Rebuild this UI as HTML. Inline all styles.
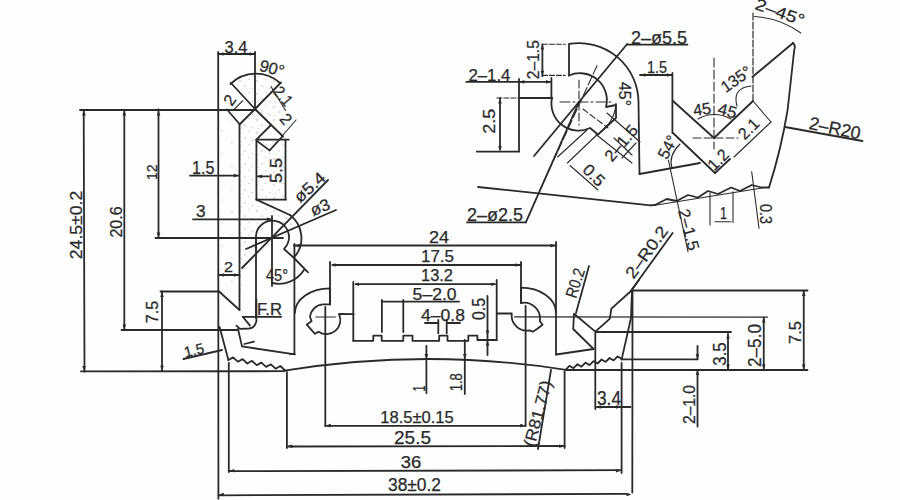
<!DOCTYPE html>
<html><head><meta charset="utf-8"><style>
html,body{margin:0;padding:0;background:#fff;}
svg{display:block;}
text{font-family:"Liberation Sans",sans-serif;fill:#2a2a2a;stroke:#2a2a2a;stroke-width:0.25px;}
</style></head><body>
<svg width="900" height="500" viewBox="0 0 900 500">
<rect width="900" height="500" fill="#fefefe"/>
<defs><pattern id="st" width="17" height="13" patternUnits="userSpaceOnUse">
<circle cx="2" cy="3" r="0.8" fill="#b4b4b4"/><circle cx="11" cy="1.5" r="0.7" fill="#c4c4c4"/>
<circle cx="7" cy="8" r="0.8" fill="#bcbcbc"/><circle cx="14.5" cy="10.5" r="0.7" fill="#c0c0c0"/>
<circle cx="3.5" cy="11.5" r="0.6" fill="#c8c8c8"/></pattern>
<pattern id="st2" width="19" height="23" patternUnits="userSpaceOnUse">
<circle cx="4" cy="5" r="0.7" fill="#c4c4c4"/><circle cx="13" cy="16" r="0.7" fill="#c8c8c8"/></pattern></defs>
<g fill="url(#st)" stroke="none">
<polygon points="255,109 272,92 292,113 272,126"/>
<polygon points="256.4,139.6 286,139.6 286,199.6 256.4,199.6"/>
<polygon points="256.4,199.6 290,215 294,232 278,224 262,232 256.4,222"/>
<polygon points="239.5,124.5 255,109 271,125 256.4,139.6 256.4,232 239.5,300"/>
<polygon fill="url(#st2)" points="218.5,110 239.5,124.5 239.5,305 218.5,291"/>
<polygon points="229,84 255,109 281,83 255,73"/>
</g>
<g fill="none" stroke="#2a2a2a" stroke-linecap="round" stroke-linejoin="round">
<line x1="80" y1="110" x2="255" y2="110" stroke-width="1.8"/>
<line x1="83.7" y1="110" x2="84.5" y2="371.5" stroke-width="1.8"/>
<text transform="translate(76.2,225) rotate(-90)" x="0" y="5.72" text-anchor="middle" font-size="16.12" textLength="68.4" lengthAdjust="spacingAndGlyphs">24.5±0.2</text>
<line x1="124.3" y1="110" x2="124.3" y2="330" stroke-width="1.8"/>
<text transform="translate(115.8,222) rotate(-90)" x="0" y="5.72" text-anchor="middle" font-size="16.12" textLength="31.2" lengthAdjust="spacingAndGlyphs">20.6</text>
<line x1="158.5" y1="109.5" x2="158.5" y2="238" stroke-width="1.8"/>
<text transform="translate(151.2,172.2) rotate(-90)" x="0" y="5.40" text-anchor="middle" font-size="15.22" textLength="15.6" lengthAdjust="spacingAndGlyphs">12</text>
<line x1="155.5" y1="238" x2="283" y2="238" stroke-width="1.8"/>
<line x1="121.5" y1="330" x2="237" y2="330" stroke-width="1.8"/>
<line x1="160.5" y1="291.5" x2="218.5" y2="291.5" stroke-width="1.8"/>
<line x1="162" y1="291.5" x2="162" y2="371" stroke-width="1.8"/>
<text transform="translate(152,312) rotate(-90)" x="0" y="5.56" text-anchor="middle" font-size="15.67" textLength="22.5" lengthAdjust="spacingAndGlyphs">7.5</text>
<line x1="81" y1="371.4" x2="284.4" y2="371.2" stroke-width="1.8"/>
<line x1="218.2" y1="52" x2="218.4" y2="498.7" stroke-width="1.8"/>
<line x1="255" y1="52" x2="255" y2="109.5" stroke-width="1.8"/>
<line x1="218.5" y1="54" x2="255" y2="54" stroke-width="1.8"/>
<text transform="translate(236,47.5) rotate(0)" x="0" y="5.83" text-anchor="middle" font-size="16.42" textLength="23" lengthAdjust="spacingAndGlyphs">3.4</text>
<text transform="translate(203.2,167.2) rotate(0)" x="0" y="6.36" text-anchor="middle" font-size="17.91" textLength="22.4" lengthAdjust="spacingAndGlyphs">1.5</text>
<line x1="190" y1="175.6" x2="239" y2="175.6" stroke-width="1.8"/>
<line x1="257" y1="176.4" x2="269" y2="176.4" stroke-width="1.8"/>
<text transform="translate(200.8,210.8) rotate(0)" x="0" y="5.93" text-anchor="middle" font-size="16.72" textLength="9.6" lengthAdjust="spacingAndGlyphs">3</text>
<line x1="193" y1="219.3" x2="272" y2="219.3" stroke-width="1.8"/>
<text transform="translate(228.5,267) rotate(0)" x="0" y="5.30" text-anchor="middle" font-size="14.93" textLength="9" lengthAdjust="spacingAndGlyphs">2</text>
<line x1="218.5" y1="275" x2="239.5" y2="275" stroke-width="1.8"/>
<line x1="231" y1="83" x2="255" y2="109" stroke-width="1.8"/>
<line x1="255" y1="109" x2="281" y2="82.5" stroke-width="1.8"/>
<line x1="227" y1="109.5" x2="239.5" y2="124" stroke-width="1.8"/>
<line x1="255" y1="109" x2="239.5" y2="124.5" stroke-width="1.8"/>
<line x1="239.5" y1="124.5" x2="239.5" y2="310" stroke-width="1.8"/>
<line x1="255" y1="109" x2="283" y2="136.5" stroke-width="1.8"/>
<line x1="271" y1="125" x2="256.4" y2="139.6" stroke-width="1.8"/>
<line x1="256.4" y1="139.6" x2="288.8" y2="139.6" stroke-width="1.8"/>
<line x1="256.4" y1="139.6" x2="256.4" y2="199.6" stroke-width="1.8"/>
<line x1="285.5" y1="139.6" x2="285.5" y2="199.6" stroke-width="1.8"/>
<line x1="257" y1="141" x2="269.6" y2="150.4" stroke-width="1.8"/>
<line x1="269.6" y1="150.4" x2="282.8" y2="136" stroke-width="1.8"/>
<line x1="256.4" y1="199.6" x2="290" y2="215" stroke-width="1.8"/>
<text transform="translate(229.5,100) rotate(-55)" x="0" y="5.83" text-anchor="middle" font-size="16.42" textLength="9" lengthAdjust="spacingAndGlyphs">2</text>
<line x1="234.5" y1="109" x2="242.7" y2="100.7" stroke-width="1.1"/>
<text transform="translate(283.5,96) rotate(50)" x="0" y="5.83" text-anchor="middle" font-size="16.42" textLength="20" lengthAdjust="spacingAndGlyphs">2.1</text>
<text transform="translate(286,119) rotate(50)" x="0" y="5.83" text-anchor="middle" font-size="16.42" textLength="9" lengthAdjust="spacingAndGlyphs">2</text>
<line x1="296" y1="120" x2="283" y2="135" stroke-width="1.1"/>
<line x1="271" y1="86.5" x2="285.5" y2="110.5" stroke-width="1.1"/>
<text transform="translate(276.5,170.5) rotate(-90)" x="0" y="5.56" text-anchor="middle" font-size="15.67" textLength="25" lengthAdjust="spacingAndGlyphs">5.5</text>
<line x1="256.4" y1="199.6" x2="286" y2="199.6" stroke-width="1.8"/>
<text transform="translate(309.5,187) rotate(-42)" x="0" y="5.83" text-anchor="middle" font-size="16.42" textLength="36" lengthAdjust="spacingAndGlyphs">ø5.4</text>
<text transform="translate(320,207) rotate(-22)" x="0" y="5.83" text-anchor="middle" font-size="16.42" textLength="20" lengthAdjust="spacingAndGlyphs">ø3</text>
<path d="M230.5,84 A36,36 0 0 1 280,83" stroke-width="1.8"/>
<text transform="translate(272,68) rotate(15)" x="0" y="5.83" text-anchor="middle" font-size="16.42" textLength="25" lengthAdjust="spacingAndGlyphs">90°</text>
<path d="M290,215 A29,29 0 0 1 294.4,257" stroke-width="1.8"/>
<path d="M256,250 L256,238 A16.5,16.5 0 1 1 287,245 L284,249 L294,258" stroke-width="1.8"/>
<line x1="256" y1="238" x2="256" y2="318" stroke-width="1.8"/>
<line x1="242" y1="268" x2="328" y2="180" stroke-width="1.8"/>
<line x1="246" y1="249" x2="336" y2="210" stroke-width="1.8"/>
<line x1="272" y1="216" x2="272" y2="286" stroke-width="1.8"/>
<line x1="294" y1="258" x2="308" y2="272.4" stroke-width="1.8"/>
<path d="M272,283 A30,30 0 0 0 304,270" stroke-width="1.8"/>
<text transform="translate(277,275) rotate(0)" x="0" y="5.83" text-anchor="middle" font-size="16.42" textLength="22" lengthAdjust="spacingAndGlyphs">45°</text>
<line x1="218.5" y1="291" x2="239.5" y2="310" stroke-width="1.8"/>
<text transform="translate(269.5,309.5) rotate(0)" x="0" y="5.83" text-anchor="middle" font-size="16.42" textLength="25" lengthAdjust="spacingAndGlyphs">F.R</text>
<line x1="242.8" y1="316.8" x2="281.2" y2="316.8" stroke-width="1.8"/>
<line x1="242.8" y1="316.8" x2="250" y2="325.6" stroke-width="1.8"/>
<path d="M256.4,300 L256.4,321 Q255,328 249,328.5 L240,328.8 L236.4,325.6" stroke-width="1.8"/>
<line x1="238" y1="329" x2="242" y2="346.4" stroke-width="1.8"/>
<line x1="242" y1="346.4" x2="294.8" y2="354.4" stroke-width="1.8"/>
<line x1="244.4" y1="344" x2="254" y2="341.6" stroke-width="1.8"/>
<path d="M219.6,327 L228.4,360" stroke-width="1.8"/>
<polyline points="228.4,360.0 233.1,357.4 237.8,361.7 242.6,359.1 247.3,363.5 252.0,360.8 256.7,365.2 261.4,362.6 266.1,366.9 270.9,364.3 275.6,368.7 280.3,366.0 285.0,370.4" stroke-width="1.8"/>
<text transform="translate(194,350) rotate(-14)" x="0" y="5.30" text-anchor="middle" font-size="14.93" textLength="20" lengthAdjust="spacingAndGlyphs">1.5</text>
<line x1="183.4" y1="359" x2="222" y2="350" stroke-width="1.8"/>
<line x1="218.5" y1="495.3" x2="627" y2="493.8" stroke-width="1.8"/>
<text transform="translate(414.5,485) rotate(0)" x="0" y="6.36" text-anchor="middle" font-size="17.91" textLength="53" lengthAdjust="spacingAndGlyphs">38±0.2</text>
<line x1="228.8" y1="363" x2="228.8" y2="472" stroke-width="1.8"/>
<line x1="228.8" y1="471.2" x2="621.3" y2="470.2" stroke-width="1.8"/>
<text transform="translate(411,462.5) rotate(0)" x="0" y="5.83" text-anchor="middle" font-size="16.42" textLength="20.5" lengthAdjust="spacingAndGlyphs">36</text>
<line x1="286.9" y1="372" x2="286.9" y2="448" stroke-width="1.8"/>
<line x1="286.9" y1="446.5" x2="564.6" y2="446" stroke-width="1.8"/>
<text transform="translate(412.5,438) rotate(0)" x="0" y="6.36" text-anchor="middle" font-size="17.91" textLength="37" lengthAdjust="spacingAndGlyphs">25.5</text>
<line x1="325.3" y1="307" x2="325.3" y2="426" stroke-width="1.8"/>
<line x1="325.3" y1="425.8" x2="525.6" y2="425.8" stroke-width="1.8"/>
<text transform="translate(417,417.5) rotate(0)" x="0" y="5.83" text-anchor="middle" font-size="16.42" textLength="73.5" lengthAdjust="spacingAndGlyphs">18.5±0.15</text>
<line x1="525.6" y1="306" x2="525.6" y2="425.8" stroke-width="1.8"/>
<line x1="564.6" y1="371.5" x2="564.6" y2="448" stroke-width="1.8"/>
<line x1="621.6" y1="363" x2="621.6" y2="473" stroke-width="1.8"/>
<line x1="632.5" y1="290" x2="632.3" y2="492.5" stroke-width="1.8"/>
<path d="M284.4,370.7 A891,891 0 0 1 566,369.8" stroke-width="1.8"/>
<text transform="translate(537.5,413.5) rotate(-75)" x="0" y="5.83" text-anchor="middle" font-size="16.42" textLength="68" lengthAdjust="spacingAndGlyphs">(R81.77)</text>
<line x1="538" y1="449" x2="551" y2="370" stroke-width="1.8"/>
<text transform="translate(419,388.5) rotate(-90)" x="0" y="5.83" text-anchor="middle" font-size="16.42" textLength="6" lengthAdjust="spacingAndGlyphs">1</text>
<line x1="426.4" y1="346" x2="426.4" y2="393" stroke-width="1.8"/>
<text transform="translate(456.4,382.3) rotate(-90)" x="0" y="5.83" text-anchor="middle" font-size="16.42" textLength="18" lengthAdjust="spacingAndGlyphs">1.8</text>
<line x1="464.8" y1="340" x2="464.8" y2="394" stroke-width="1.8"/>
<line x1="487.5" y1="296" x2="487.5" y2="355" stroke-width="1.8"/>
<line x1="294.4" y1="244" x2="294.4" y2="354" stroke-width="1.8"/>
<line x1="290" y1="354" x2="294.4" y2="354" stroke-width="1.8"/>
<line x1="294" y1="245.5" x2="556" y2="245.5" stroke-width="1.8"/>
<text transform="translate(439,237.5) rotate(0)" x="0" y="5.83" text-anchor="middle" font-size="16.42" textLength="20" lengthAdjust="spacingAndGlyphs">24</text>
<line x1="330" y1="262" x2="330" y2="304.4" stroke-width="1.8"/>
<line x1="333" y1="265" x2="521" y2="265" stroke-width="1.8"/>
<line x1="521" y1="262" x2="521" y2="303" stroke-width="1.8"/>
<text transform="translate(437.5,256.5) rotate(0)" x="0" y="5.83" text-anchor="middle" font-size="16.42" textLength="33" lengthAdjust="spacingAndGlyphs">17.5</text>
<line x1="353.3" y1="282" x2="353.3" y2="340.8" stroke-width="1.8"/>
<line x1="355.8" y1="284.2" x2="495" y2="284.2" stroke-width="1.8"/>
<line x1="496.7" y1="280" x2="496.7" y2="340" stroke-width="1.8"/>
<text transform="translate(437,275.5) rotate(0)" x="0" y="5.83" text-anchor="middle" font-size="16.42" textLength="32" lengthAdjust="spacingAndGlyphs">13.2</text>
<text transform="translate(434.6,294.5) rotate(0)" x="0" y="5.83" text-anchor="middle" font-size="16.42" textLength="44" lengthAdjust="spacingAndGlyphs">5–2.0</text>
<line x1="381.7" y1="301.7" x2="459" y2="301.7" stroke-width="1.8"/>
<line x1="381.9" y1="300" x2="381.9" y2="332" stroke-width="1.8"/>
<line x1="403.3" y1="300" x2="403.3" y2="332" stroke-width="1.8"/>
<text transform="translate(443,315.4) rotate(0)" x="0" y="5.83" text-anchor="middle" font-size="16.42" textLength="44" lengthAdjust="spacingAndGlyphs">4–0.8</text>
<line x1="425" y1="323" x2="438.3" y2="323" stroke-width="1.8"/>
<line x1="447.5" y1="323" x2="460" y2="323" stroke-width="1.8"/>
<line x1="438.3" y1="320" x2="438.3" y2="333.3" stroke-width="1.8"/>
<line x1="446.7" y1="320" x2="446.7" y2="333.3" stroke-width="1.8"/>
<text transform="translate(478.8,309) rotate(-90)" x="0" y="6.36" text-anchor="middle" font-size="17.91" textLength="22" lengthAdjust="spacingAndGlyphs">0.5</text>
<polyline points="353.3,340.8 373.3,340.8 373.3,335.6 381.7,335.6 381.7,340.8 403.3,340.8 403.3,335.6 412.5,335.6 412.5,340.8 439.2,340.8 439.2,335.6 447.5,335.6 447.5,340.8 468.3,340.8 468.3,335.6 477.4,335.6 477.4,340 496.7,340" stroke-width="1.8"/>
<path d="M294.8,313 A35,25 0 0 1 329.8,288.3 L330,304.4 L322.8,304.4 A14,14 0 0 0 310,317 L311.6,321 L306.7,324.7 L315,333.8 L318.6,331.7 A14,14 0 0 0 339,314 L353.6,314.2" stroke-width="1.8"/>
<line x1="315.8" y1="317" x2="335.4" y2="317" stroke-width="1"/>
<path d="M496.7,313.5 L511.8,313.5 A15,15 0 0 0 529.3,330.3 L532.8,331.7 L537,329 L542.6,324.7 L539.8,321.2 A16,16 0 0 0 521,303 L521,287.6 A35,25 0 0 1 556,312" stroke-width="1.8"/>
<line x1="556" y1="242" x2="556" y2="354.5" stroke-width="1.8"/>
<line x1="514.6" y1="316.9" x2="767.5" y2="317.1" stroke-width="1.3"/>
<line x1="576" y1="313" x2="589" y2="266" stroke-width="1.8"/>
<text transform="translate(575,283) rotate(-72)" x="0" y="5.83" text-anchor="middle" font-size="16.42" textLength="30" lengthAdjust="spacingAndGlyphs">R0.2</text>
<polyline points="593.6,349 573.2,329 574,313.7 595.3,331.6 609.7,318.8 611.4,308.6 631,291 639,280" stroke-width="1.8"/>
<line x1="556.2" y1="354.5" x2="593.6" y2="349" stroke-width="1.8"/>
<polyline points="632,291 631,318 621.6,359.6" stroke-width="1.8"/>
<line x1="595.3" y1="333" x2="595.3" y2="409" stroke-width="1.8"/>
<line x1="596" y1="332" x2="731" y2="332" stroke-width="1.8"/>
<line x1="632" y1="290.5" x2="807.5" y2="290.5" stroke-width="1.8"/>
<line x1="621.6" y1="359.3" x2="697.5" y2="359.3" stroke-width="1.8"/>
<line x1="697.5" y1="346" x2="697.5" y2="359.3" stroke-width="1.8"/>
<line x1="697.5" y1="370" x2="697.5" y2="426.5" stroke-width="1.8"/>
<line x1="763.75" y1="317.5" x2="763.75" y2="369.5" stroke-width="1.8"/>
<line x1="728" y1="334" x2="728" y2="369.5" stroke-width="1.8"/>
<line x1="803.75" y1="291" x2="803.75" y2="369.5" stroke-width="1.8"/>
<line x1="566" y1="370" x2="807.5" y2="370" stroke-width="1.8"/>
<polyline points="565.5,369.8 569.5,365.8 573.5,368.2 577.5,364.2 581.5,366.7 585.5,362.7 589.5,365.1 593.5,361.1 597.6,363.5 601.6,359.5 605.6,361.9 609.6,358.0 613.6,360.4 617.6,356.4 621.6,358.8" stroke-width="1.8"/>
<text transform="translate(795.5,332.5) rotate(-90)" x="0" y="5.83" text-anchor="middle" font-size="16.42" textLength="23" lengthAdjust="spacingAndGlyphs">7.5</text>
<text transform="translate(755,345.5) rotate(-90)" x="0" y="6.36" text-anchor="middle" font-size="17.91" textLength="43" lengthAdjust="spacingAndGlyphs">2–5.0</text>
<text transform="translate(720,354) rotate(-90)" x="0" y="6.36" text-anchor="middle" font-size="17.91" textLength="23.5" lengthAdjust="spacingAndGlyphs">3.5</text>
<text transform="translate(689,404.5) rotate(-90)" x="0" y="5.56" text-anchor="middle" font-size="15.67" textLength="39" lengthAdjust="spacingAndGlyphs">2–1.0</text>
<text transform="translate(609,398.5) rotate(0)" x="0" y="6.89" text-anchor="middle" font-size="19.40" textLength="24" lengthAdjust="spacingAndGlyphs">3.4</text>
<line x1="597" y1="407" x2="630.5" y2="407" stroke-width="1.8"/>
<line x1="630.8" y1="291" x2="672.6" y2="233" stroke-width="1.8"/>
<text transform="translate(646.5,252) rotate(-54)" x="0" y="5.83" text-anchor="middle" font-size="16.42" textLength="60" lengthAdjust="spacingAndGlyphs">2–R0.2</text>
<text transform="translate(489.4,74.5) rotate(0)" x="0" y="6.09" text-anchor="middle" font-size="17.16" textLength="42" lengthAdjust="spacingAndGlyphs">2–1.4</text>
<line x1="466.3" y1="81.9" x2="550.3" y2="81.9" stroke-width="1.8"/>
<line x1="519" y1="79" x2="519" y2="151.6" stroke-width="1.8"/>
<line x1="496.8" y1="98" x2="518" y2="98" stroke-width="1.1" stroke-dasharray="5,2"/>
<line x1="520" y1="98" x2="551.4" y2="98" stroke-width="1.8"/>
<line x1="551.4" y1="78" x2="551.4" y2="98" stroke-width="1.8"/>
<line x1="500" y1="98" x2="500" y2="149.5" stroke-width="1.8"/>
<text transform="translate(489.4,121.2) rotate(-90)" x="0" y="5.56" text-anchor="middle" font-size="15.67" textLength="25" lengthAdjust="spacingAndGlyphs">2.5</text>
<line x1="476.8" y1="151.6" x2="519" y2="151.6" stroke-width="1.8"/>
<text transform="translate(533.1,59.7) rotate(-90)" x="0" y="6.09" text-anchor="middle" font-size="17.16" textLength="39" lengthAdjust="spacingAndGlyphs">2–1.5</text>
<line x1="542.4" y1="44.4" x2="542.4" y2="76.2" stroke-width="1.8"/>
<line x1="542.4" y1="44.2" x2="565.2" y2="44.2" stroke-width="1.1" stroke-dasharray="5,2"/>
<line x1="542.4" y1="75.4" x2="565.2" y2="75.4" stroke-width="1.1" stroke-dasharray="5,2"/>
<path d="M569,75.5 L569,43.9 A59.5,59.5 0 0 1 638.5,102 L639.5,174" stroke-width="1.8"/>
<path d="M569,75.5 A27,27 0 0 1 606,107 L616,105 L616,118 L598,134.5 L590,128 A27,27 0 0 1 552,98" stroke-width="1.8"/>
<line x1="530" y1="98" x2="552" y2="98" stroke-width="1.8"/>
<line x1="560" y1="102" x2="612" y2="102" stroke-width="1.1" stroke-dasharray="10,3,2,3"/>
<line x1="579" y1="80" x2="579" y2="125" stroke-width="1.1" stroke-dasharray="8,3"/>
<line x1="534" y1="156" x2="627.2" y2="44" stroke-width="1.8"/>
<line x1="627.2" y1="44.6" x2="687.5" y2="44.6" stroke-width="1.8"/>
<text transform="translate(659,37.5) rotate(0)" x="0" y="6.36" text-anchor="middle" font-size="17.91" textLength="56" lengthAdjust="spacingAndGlyphs">2–ø5.5</text>
<line x1="597" y1="65.7" x2="540" y2="190" stroke-width="1.1" stroke-dasharray="9,3"/>
<text transform="translate(495,215) rotate(0)" x="0" y="6.36" text-anchor="middle" font-size="17.91" textLength="56" lengthAdjust="spacingAndGlyphs">2–ø2.5</text>
<line x1="467" y1="222.4" x2="525.8" y2="222.4" stroke-width="1.8"/>
<line x1="525.8" y1="222.4" x2="579" y2="102" stroke-width="1.8"/>
<line x1="583" y1="109" x2="608" y2="128" stroke-width="1.1" stroke-dasharray="6,3"/>
<line x1="607" y1="113" x2="640" y2="142" stroke-width="1.1"/>
<line x1="596" y1="134.5" x2="632" y2="163" stroke-width="1.1"/>
<line x1="557.6" y1="157" x2="587" y2="130" stroke-width="1.1"/>
<line x1="567.4" y1="163" x2="596.7" y2="135" stroke-width="1.1"/>
<line x1="570" y1="165.5" x2="598" y2="190" stroke-width="1.1"/>
<text transform="translate(594,175) rotate(45)" x="0" y="5.83" text-anchor="middle" font-size="16.42" textLength="24" lengthAdjust="spacingAndGlyphs">0.5</text>
<text transform="translate(621,143) rotate(-50)" x="0" y="5.83" text-anchor="middle" font-size="16.42" textLength="42" lengthAdjust="spacingAndGlyphs">2–1.5</text>
<line x1="614" y1="138" x2="632" y2="155" stroke-width="1.1"/>
<line x1="636" y1="143" x2="622" y2="158" stroke-width="1.1"/>
<text transform="translate(624.5,94) rotate(90)" x="0" y="5.83" text-anchor="middle" font-size="16.42" textLength="24" lengthAdjust="spacingAndGlyphs">45°</text>
<path d="M616,103 A37,37 0 0 1 604,129" stroke-width="1.1"/>
<text transform="translate(657,67.5) rotate(0)" x="0" y="5.83" text-anchor="middle" font-size="16.42" textLength="20" lengthAdjust="spacingAndGlyphs">1.5</text>
<line x1="640" y1="75" x2="672" y2="75" stroke-width="1.8"/>
<line x1="672.4" y1="73" x2="672.4" y2="133" stroke-width="1.8"/>
<line x1="639.5" y1="174" x2="700" y2="163" stroke-width="1.8"/>
<line x1="673" y1="101" x2="714" y2="138" stroke-width="1.8"/>
<line x1="714" y1="138" x2="753" y2="101" stroke-width="1.8"/>
<line x1="753" y1="13" x2="753" y2="101" stroke-width="1.2" stroke-dasharray="7,2"/>
<line x1="673" y1="133" x2="715" y2="173" stroke-width="1.8"/>
<line x1="715" y1="173" x2="730" y2="159" stroke-width="1.8"/>
<line x1="734" y1="157" x2="771" y2="122" stroke-width="1.1"/>
<line x1="753" y1="101" x2="771" y2="122" stroke-width="1.1"/>
<line x1="714" y1="58" x2="714" y2="149" stroke-width="1.1" stroke-dasharray="9,3"/>
<line x1="693" y1="138" x2="738" y2="138" stroke-width="1.1" stroke-dasharray="8,3"/>
<path d="M698,119 Q714,110 731,119" stroke-width="1.1"/>
<text transform="translate(702,109) rotate(-8)" x="0" y="5.83" text-anchor="middle" font-size="16.42" textLength="18" lengthAdjust="spacingAndGlyphs">45</text>
<text transform="translate(727.5,110.5) rotate(15)" x="0" y="5.83" text-anchor="middle" font-size="16.42" textLength="19" lengthAdjust="spacingAndGlyphs">45</text>
<text transform="translate(748.5,128.5) rotate(-45)" x="0" y="5.83" text-anchor="middle" font-size="16.42" textLength="22" lengthAdjust="spacingAndGlyphs">2.1</text>
<text transform="translate(718,159.5) rotate(-45)" x="0" y="5.83" text-anchor="middle" font-size="16.42" textLength="22" lengthAdjust="spacingAndGlyphs">1.2</text>
<text transform="translate(667.5,147) rotate(-62)" x="0" y="5.83" text-anchor="middle" font-size="16.42" textLength="24" lengthAdjust="spacingAndGlyphs">54°</text>
<path d="M680,144 Q668,156 672,168" stroke-width="1.1"/>
<line x1="752.4" y1="77" x2="793" y2="43" stroke-width="1.8"/>
<path d="M793,43 Q796,46 794.2,50 L787.6,110 Q781,150 769,187.5" stroke-width="1.8"/>
<text transform="translate(736,79) rotate(-35)" x="0" y="5.83" text-anchor="middle" font-size="16.42" textLength="33" lengthAdjust="spacingAndGlyphs">135°</text>
<path d="M751,86 Q732,88 737,106" stroke-width="1.1"/>
<text transform="translate(780,12) rotate(20)" x="0" y="5.83" text-anchor="middle" font-size="16.42" textLength="51" lengthAdjust="spacingAndGlyphs">2–45°</text>
<path d="M754.6,16.5 Q780,18 800.8,33" stroke-width="1.1"/>
<line x1="785" y1="127" x2="862.4" y2="141" stroke-width="1.8"/>
<text transform="translate(835,128) rotate(12)" x="0" y="6.36" text-anchor="middle" font-size="17.91" textLength="52" lengthAdjust="spacingAndGlyphs">2–R20</text>
<polyline points="650.5,205.3 655,205 666.7,199 676.7,201 688,195 698,197.5 708,191 718,194 731,187.5 740,191 751.7,185 761.7,187.5 769,187.5" stroke-width="1.8"/>
<line x1="478" y1="187" x2="650.5" y2="205.3" stroke-width="1.8"/>
<line x1="655" y1="205.3" x2="762" y2="188" stroke-width="1.1"/>
<line x1="710" y1="193" x2="710" y2="225" stroke-width="1.1"/>
<line x1="733" y1="191.7" x2="733" y2="222.5" stroke-width="1.1"/>
<line x1="715" y1="221.7" x2="731" y2="221.7" stroke-width="1.1"/>
<text transform="translate(723.4,213.5) rotate(0)" x="0" y="5.83" text-anchor="middle" font-size="16.42" textLength="7" lengthAdjust="spacingAndGlyphs">1</text>
<line x1="751.7" y1="171.7" x2="759" y2="228.3" stroke-width="1.1"/>
<text transform="translate(766,214) rotate(90)" x="0" y="5.83" text-anchor="middle" font-size="16.42" textLength="20" lengthAdjust="spacingAndGlyphs">0.3</text>
<line x1="668.4" y1="160" x2="688" y2="251.6" stroke-width="1.1"/>
<text transform="translate(689,229.6) rotate(75)" x="0" y="5.83" text-anchor="middle" font-size="16.42" textLength="42" lengthAdjust="spacingAndGlyphs">2–1.5</text>
<polygon points="84,110.5 85.80,115.50 82.20,115.50" fill="#2a2a2a" stroke="none"/>
<polygon points="84,371 82.20,366.00 85.80,366.00" fill="#2a2a2a" stroke="none"/>
<polygon points="124.3,110.5 126.10,115.50 122.50,115.50" fill="#2a2a2a" stroke="none"/>
<polygon points="124.3,329.5 122.50,324.50 126.10,324.50" fill="#2a2a2a" stroke="none"/>
<polygon points="158.5,110.5 160.30,115.50 156.70,115.50" fill="#2a2a2a" stroke="none"/>
<polygon points="158.5,237.5 156.70,232.50 160.30,232.50" fill="#2a2a2a" stroke="none"/>
<polygon points="162,292 163.80,297.00 160.20,297.00" fill="#2a2a2a" stroke="none"/>
<polygon points="162,370.8 160.20,365.80 163.80,365.80" fill="#2a2a2a" stroke="none"/>
<polygon points="218.5,54 223.50,52.20 223.50,55.80" fill="#2a2a2a" stroke="none"/>
<polygon points="254.7,54 249.70,55.80 249.70,52.20" fill="#2a2a2a" stroke="none"/>
<polygon points="294.8,245.6 299.80,243.80 299.80,247.40" fill="#2a2a2a" stroke="none"/>
<polygon points="555.6,245.6 550.60,247.40 550.60,243.80" fill="#2a2a2a" stroke="none"/>
<polygon points="330.5,265 335.50,263.20 335.50,266.80" fill="#2a2a2a" stroke="none"/>
<polygon points="520.6,265 515.60,266.80 515.60,263.20" fill="#2a2a2a" stroke="none"/>
<polygon points="354,284.2 359.00,282.40 359.00,286.00" fill="#2a2a2a" stroke="none"/>
<polygon points="496.3,284.2 491.30,286.00 491.30,282.40" fill="#2a2a2a" stroke="none"/>
<polygon points="325.8,425.6 330.80,423.80 330.80,427.40" fill="#2a2a2a" stroke="none"/>
<polygon points="525.2,425.6 520.20,427.40 520.20,423.80" fill="#2a2a2a" stroke="none"/>
<polygon points="287.3,446.3 292.30,444.50 292.30,448.10" fill="#2a2a2a" stroke="none"/>
<polygon points="564.2,446.3 559.20,448.10 559.20,444.50" fill="#2a2a2a" stroke="none"/>
<polygon points="229.3,470.8 234.30,469.00 234.30,472.60" fill="#2a2a2a" stroke="none"/>
<polygon points="620.9,470.8 615.90,472.60 615.90,469.00" fill="#2a2a2a" stroke="none"/>
<polygon points="218.9,494.5 223.90,492.70 223.90,496.30" fill="#2a2a2a" stroke="none"/>
<polygon points="631.5,494.5 626.50,496.30 626.50,492.70" fill="#2a2a2a" stroke="none"/>
<polygon points="803.75,291 805.55,296.00 801.95,296.00" fill="#2a2a2a" stroke="none"/>
<polygon points="803.75,369.6 801.95,364.60 805.55,364.60" fill="#2a2a2a" stroke="none"/>
<polygon points="763.75,317.5 765.55,322.50 761.95,322.50" fill="#2a2a2a" stroke="none"/>
<polygon points="763.75,369.6 761.95,364.60 765.55,364.60" fill="#2a2a2a" stroke="none"/>
<polygon points="728,333.5 729.80,338.50 726.20,338.50" fill="#2a2a2a" stroke="none"/>
<polygon points="728,369.6 726.20,364.60 729.80,364.60" fill="#2a2a2a" stroke="none"/>
<polygon points="500,98.5 501.80,103.50 498.20,103.50" fill="#2a2a2a" stroke="none"/>
<polygon points="500,151.2 498.20,146.20 501.80,146.20" fill="#2a2a2a" stroke="none"/>
<polygon points="640.5,75 645.50,73.20 645.50,76.80" fill="#2a2a2a" stroke="none"/>
<polygon points="671.9,75 666.90,76.80 666.90,73.20" fill="#2a2a2a" stroke="none"/>
<polygon points="542.4,44.6 544.20,49.60 540.60,49.60" fill="#2a2a2a" stroke="none"/>
<polygon points="542.4,75.8 540.60,70.80 544.20,70.80" fill="#2a2a2a" stroke="none"/>
<polygon points="238.8,175.6 233.80,177.40 233.80,173.80" fill="#2a2a2a" stroke="none"/>
<polygon points="256.9,176.4 261.90,174.60 261.90,178.20" fill="#2a2a2a" stroke="none"/>
<polygon points="271.8,219.3 266.80,221.10 266.80,217.50" fill="#2a2a2a" stroke="none"/>
<polygon points="218.8,275 223.80,273.20 223.80,276.80" fill="#2a2a2a" stroke="none"/>
<polygon points="239.2,275 234.20,276.80 234.20,273.20" fill="#2a2a2a" stroke="none"/>
<polygon points="487.5,335.4 485.70,330.40 489.30,330.40" fill="#2a2a2a" stroke="none"/>
<polygon points="487.5,340.6 489.30,345.60 485.70,345.60" fill="#2a2a2a" stroke="none"/>
<polygon points="426.4,359 424.60,354.00 428.20,354.00" fill="#2a2a2a" stroke="none"/>
<polygon points="464.8,359 463.00,354.00 466.60,354.00" fill="#2a2a2a" stroke="none"/>
<polygon points="595.8,407 600.80,405.20 600.80,408.80" fill="#2a2a2a" stroke="none"/>
<polygon points="621,407 616.00,408.80 616.00,405.20" fill="#2a2a2a" stroke="none"/>
<polygon points="697.5,359.3 695.70,354.30 699.30,354.30" fill="#2a2a2a" stroke="none"/>
<polygon points="697.5,370 699.30,375.00 695.70,375.00" fill="#2a2a2a" stroke="none"/>
<polygon points="519.3,81.9 524.30,80.10 524.30,83.70" fill="#2a2a2a" stroke="none"/>
<polygon points="551,81.9 546.00,83.70 546.00,80.10" fill="#2a2a2a" stroke="none"/>
</g>
</svg></body></html>
